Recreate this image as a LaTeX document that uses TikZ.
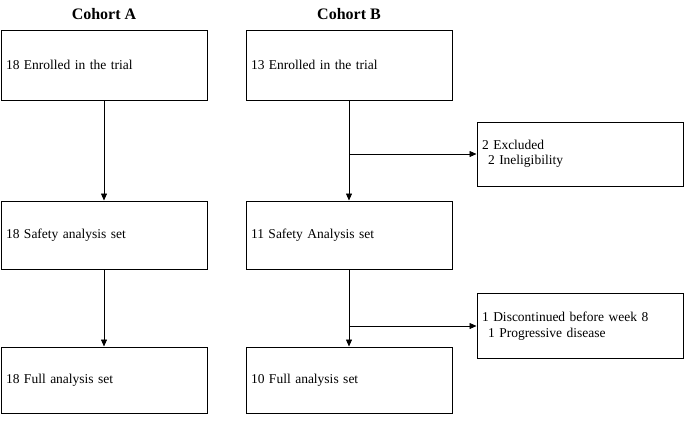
\documentclass[tikz,border=0pt]{standalone}
\usepackage{fontspec}
\setmainfont{Liberation Serif}
\usetikzlibrary{arrows.meta}
\begin{document}
\begin{tikzpicture}[x=1pt,y=-1pt,
  bx/.style={draw,line width=1pt,minimum width=206pt,text width=196pt,align=left,inner sep=5pt,font=\fontsize{13.5}{15.5}\selectfont},
  ar/.style={-{Triangle[length=7pt,width=6pt]},line width=0.6pt},
  ttl/.style={font=\bfseries\fontsize{16}{18}\selectfont}]
\useasboundingbox (0,0) rectangle (685,442);
\node[ttl] (ta) at (104,14) {Cohort A};
\node[ttl] (tb) at (349,14) {Cohort B};
\node[bx,minimum height=70pt] (a1) at (104,65) {18 Enrolled in the trial};
\node[bx,minimum height=68pt] (a2) at (104,235) {18 Safety analysis set};
\node[bx,minimum height=66pt] (a3) at (104,380) {18 Full analysis set};
\node[bx,minimum height=70pt] (b1) at (349,65) {13 Enrolled in the trial};
\node[bx,minimum height=68pt] (b2) at (349,235) {11 Safety Analysis set};
\node[bx,minimum height=66pt] (b3) at (349,380) {10 Full analysis set};
\node[bx,minimum height=64pt] (e1) at (580,154) {2 Excluded\\\hspace*{6pt}2 Ineligibility};
\node[bx,minimum height=65pt] (e2) at (580,326) {1 Discontinued before week 8\\\hspace*{6pt}1 Progressive disease};
\draw[ar] (a1.south) -- (a2.north);
\draw[ar] (a2.south) -- (a3.north);
\draw[ar] (b1.south) -- (b2.north);
\draw[ar] (b2.south) -- (b3.north);
\coordinate (j1) at (b1.south |- e1.west);
\coordinate (j2) at (b2.south |- e2.west);
\draw[ar] (j1) -- (e1.west);
\draw[ar] (j2) -- (e2.west);
\end{tikzpicture}
\end{document}
